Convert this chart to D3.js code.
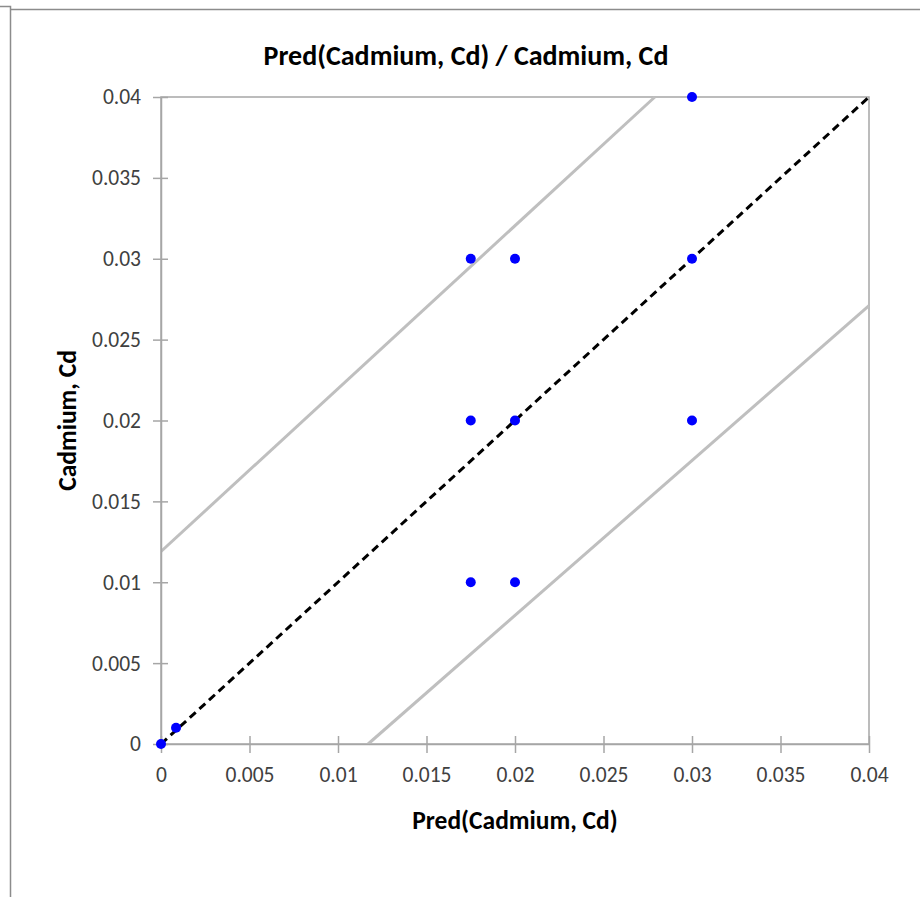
<!DOCTYPE html>
<html>
<head>
<meta charset="utf-8">
<script src="https://cdn.jsdelivr.net/npm/d3@7"></script>
<style>
  body { margin: 0; background: #fff; }
  text { font-family: Carlito, "Open Sans", "Liberation Sans", sans-serif; }
</style>
</head>
<body>
<svg id="chart" width="920" height="897"></svg>
<script>
// observed vs predicted points
var predX = [0, 0.00085, 0.0175, 0.02, 0.03, 0.03, 0.0175, 0.02, 0.03, 0.0175, 0.02];
var actualY = [0, 0.001, 0.03, 0.03, 0.03, 0.04, 0.02, 0.02, 0.02, 0.01, 0.01];
// grey bands
var upperBand = [[0, 0.0119], [0.0279, 0.04]];
var lowerBand = [[0.0117, 0], [0.04, 0.0271]];
var diagonal = [[0, 0], [0.04, 0.04]];
var tickValues = [0, 0.005, 0.01, 0.015, 0.02, 0.025, 0.03, 0.035, 0.04];

var svg = d3.select("#chart");
var mLeft = 161, mRight = 869, mTop = 97, mBottom = 744;

var x = d3.scaleLinear().domain([0, 0.04]).range([mLeft, mRight]);
var y = d3.scaleLinear().domain([0, 0.04]).range([mBottom, mTop]);

// outer frame
svg.append("path").attr("d", "M0,6.5H10.5V897 M10.5,9.5H920")
  .attr("fill", "none").attr("stroke", "#8c8c8c").attr("stroke-width", 1.5);

// plot border
svg.append("rect").attr("x", mLeft).attr("y", mTop)
  .attr("width", mRight - mLeft).attr("height", mBottom - mTop)
  .attr("fill", "none").attr("stroke", "#a6a6a6").attr("stroke-width", 1.5);

var line = d3.line().x(function(d) { return x(d[0]); }).y(function(d) { return y(d[1]); });

[upperBand, lowerBand].forEach(function(b) {
  svg.append("path").attr("d", line(b))
    .attr("fill", "none").attr("stroke", "#bfbfbf").attr("stroke-width", 3);
});

// axes
var xAxis = svg.append("g").attr("transform", "translate(0," + mBottom + ")")
  .call(d3.axisBottom(x).tickValues(tickValues).tickFormat(d3.format("~g")).tickSize(9).tickSizeOuter(0));
var yAxis = svg.append("g").attr("transform", "translate(" + mLeft + ",0)")
  .call(d3.axisLeft(y).tickValues(tickValues).tickFormat(d3.format("~g")).tickSize(8).tickSizeOuter(0));

[xAxis, yAxis].forEach(function(a) {
  a.attr("font-family", null).attr("font-size", null);
  a.select(".domain").attr("stroke", "#a6a6a6").attr("stroke-width", 1.5);
  a.selectAll(".tick line").attr("stroke", "#a6a6a6").attr("stroke-width", 1.5);
  a.selectAll(".tick text").attr("fill", "#404040").style("font-size", "21.5px");
});
xAxis.selectAll(".tick line").attr("y1", -8);
xAxis.selectAll(".tick text").attr("y", 23);
yAxis.selectAll(".tick line").attr("x1", 7);
yAxis.selectAll(".tick text").attr("x", -20);

svg.append("path").attr("d", line(diagonal))
  .attr("fill", "none").attr("stroke", "#000").attr("stroke-width", 3)
  .attr("stroke-dasharray", "8,5");

svg.selectAll("circle.pt").data(predX).enter().append("circle")
  .attr("class", "pt")
  .attr("cx", function(d) { return x(d); })
  .attr("cy", function(d, i) { return y(actualY[i]); })
  .attr("r", 5).attr("fill", "#0000ff");

svg.append("text").attr("x", 466).attr("y", 65).attr("text-anchor", "middle")
  .style("font-size", "28px").style("font-weight", "bold").attr("fill", "#000")
  .text("Pred(Cadmium, Cd) / Cadmium, Cd");

svg.append("text").attr("x", (mLeft + mRight) / 2).attr("y", 829).attr("text-anchor", "middle")
  .style("font-size", "25.5px").style("font-weight", "bold").attr("fill", "#000")
  .text("Pred(Cadmium, Cd)");

svg.append("text").attr("transform", "translate(76," + (mTop + mBottom) / 2 + ") rotate(-90)")
  .attr("text-anchor", "middle")
  .style("font-size", "25.5px").style("font-weight", "bold").attr("fill", "#000")
  .text("Cadmium, Cd");
</script>
</body>
</html>
